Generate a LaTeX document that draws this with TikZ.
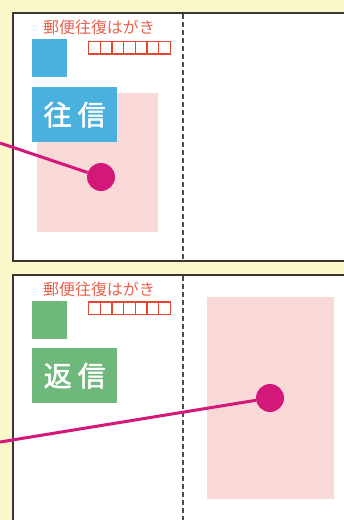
\documentclass[tikz,border=0pt]{standalone}
\usepackage{fontspec}
\newfontfamily\jpfont{Noto Sans CJK JP}
\newfontfamily\jpmid[FakeBold=1.6]{Noto Sans CJK JP}
\usepackage{tikz}
\definecolor{bgyellow}{HTML}{FAF7CA}
\definecolor{cardline}{HTML}{3A3532}
\definecolor{sendblue}{HTML}{4AB1DF}
\definecolor{replygreen}{HTML}{6EB87B}
\definecolor{areapink}{HTML}{F8D9D8}
\definecolor{pointmag}{HTML}{D3187A}
\definecolor{zipred}{HTML}{E6452F}

\begin{document}
\begin{tikzpicture}[x=1pt,y=-1pt,
    card/.style={fill=white,draw=cardline,line width=1.4pt},
    fold/.style={draw=cardline!90,line width=1.7pt,dash pattern=on 4.5pt off 3.5pt},
    zipbox/.style={draw=zipred,line width=1.4pt},
    title/.style={text=zipred!85,font=\jpfont\fontsize{16}{16}\selectfont,inner sep=0pt},
    stamp/.style={minimum width=35pt,minimum height=38pt,inner sep=0pt},
    kind/.style={minimum width=85pt,minimum height=55pt,inner sep=0pt,text=white,
        font=\jpmid\fontsize{28}{28}\selectfont},
    link/.style={draw=pointmag,line width=3pt},
    dot/.style={circle,fill=pointmag,minimum size=28pt,inner sep=0pt}]
            \useasboundingbox (0,0) rectangle (344,520);
            \clip (0,0) rectangle (344,520);
            \fill[bgyellow] (0,0) rectangle (344,520);

            % upper card
            \draw[card] (13,13) rectangle (370,261);
            \fill[areapink] (37,93) rectangle (158,232);
            \draw[fold] (183,14) -- (183,261);
            \node[title] (titleA) at (99,27) {郵便往復はがき};
            \foreach \i in {0,...,6}
                \draw[zipbox] (88.5+\i*11.7,41.5) rectangle ++(11.7,12.5);
            \node[stamp,fill=sendblue,anchor=north west] (stampA) at (32,39) {};
            \node[kind,fill=sendblue,anchor=north west] (kindA) at (32,87) {往\hspace{6pt}信};
            \coordinate (startA) at (0,143);
            \node[dot] (dotA) at (101,177) {};
            \draw[link] (startA) -- (dotA);

            % lower card
            \draw[card] (13,275) rectangle (370,540);
            \fill[areapink] (207,297) rectangle (334,499);
            \draw[fold] (183,276) -- (183,520);
            \node[title] (titleB) at (99,289) {郵便往復はがき};
            \foreach \i in {0,...,6}
                \draw[zipbox] (88.5+\i*11.7,302) rectangle ++(11.7,12.5);
            \node[stamp,fill=replygreen,anchor=north west] (stampB) at (32,301) {};
            \node[kind,fill=replygreen,anchor=north west] (kindB) at (32,348) {返\hspace{6pt}信};
            \coordinate (startB) at (0,442);
            \node[dot] (dotB) at (270,398) {};
            \draw[link] (startB) -- (dotB);
        \end{tikzpicture}
\end{document}
